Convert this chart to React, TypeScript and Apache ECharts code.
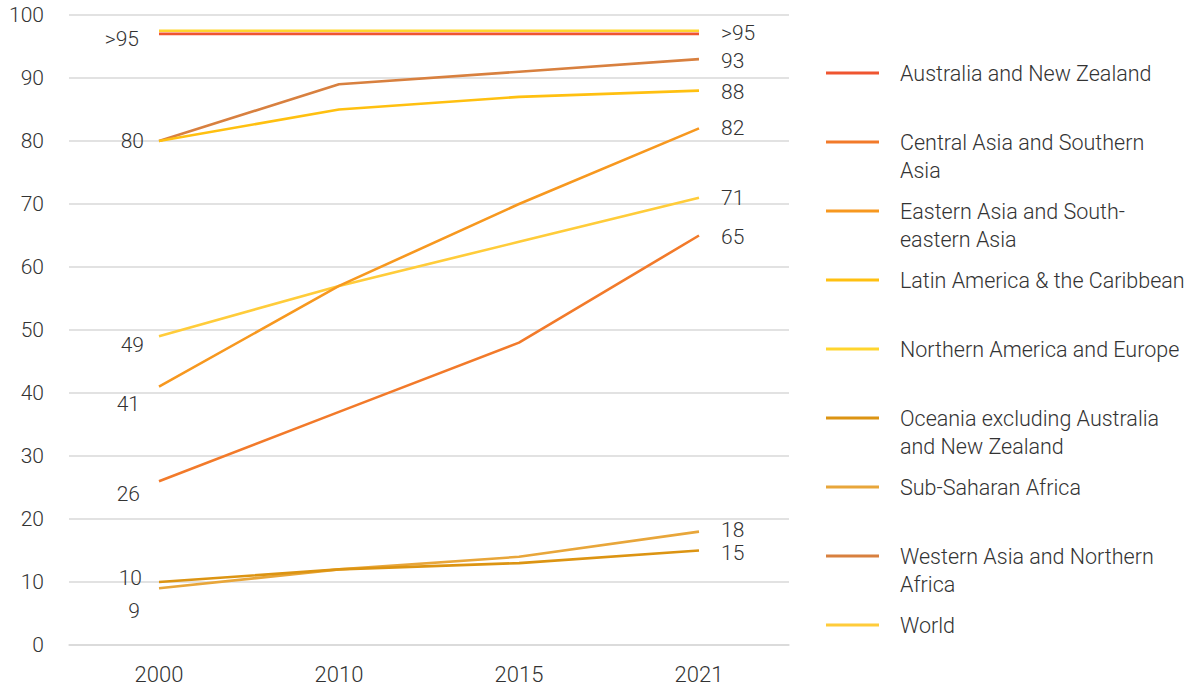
import React, { useEffect, useRef } from "react";
import * as echarts from "echarts";

const years = ["2000", "2010", "2015", "2021"];
const yTicks = [0, 10, 20, 30, 40, 50, 60, 70, 80, 90, 100];

const seriesNames = [
  "Australia and New Zealand",
  "Central Asia and Southern Asia",
  "Eastern Asia and South-eastern Asia",
  "Latin America & the Caribbean",
  "Northern America and Europe",
  "Oceania excluding Australia and New Zealand",
  "Sub-Saharan Africa",
  "Western Asia and Northern Africa",
  "World",
];

const legendLabels = [
  "Australia and New Zealand",
  "Central Asia and Southern\nAsia",
  "Eastern Asia and South-\neastern Asia",
  "Latin America & the Caribbean",
  "Northern America and Europe",
  "Oceania excluding Australia\nand New Zealand",
  "Sub-Saharan Africa",
  "Western Asia and Northern\nAfrica",
  "World",
];

const australiaNZ = [97, 97, 97, 97];
const centralSouthernAsia = [26, 37, 48, 65];
const easternSEAsia = [41, 57, 70, 82];
const latinAmerica = [80, 85, 87, 88];
const northAmericaEurope = [97.5, 97.5, 97.5, 97.5];
const oceaniaExcl = [10, 12, 13, 15];
const subSaharan = [9, 12, 14, 18];
const westernAsiaNAfrica = [80, 89, 91, 93];
const world = [49, 57, 64, 71];

const seriesValues = [
  australiaNZ,
  centralSouthernAsia,
  easternSEAsia,
  latinAmerica,
  northAmericaEurope,
  oceaniaExcl,
  subSaharan,
  westernAsiaNAfrica,
  world,
];

const colors = [
  "#EF5530",
  "#F27A2A",
  "#F7981F",
  "#FFC010",
  "#FFD52E",
  "#DC9412",
  "#E8A63A",
  "#D8803F",
  "#FFCC3A",
];

// label text per series at first / last point (null = no label)
const startLabels: (string | null)[] = [">95", "26", "41", null, null, "10", "9", "80", "49"];
const endLabels: (string | null)[] = [">95", "65", "82", "88", null, "15", "18", "93", "71"];

// label placement tweaks (styling, not data)
const startOffsets: number[][] = [
  [-5, 5], [-4, 13], [-4, 17], [0, 0], [0, 0], [-2, -4], [-4, 23], [0, 0], [0, 9],
];
const endOffsets: number[][] = [
  [0, -1], [0, 1], [0, 0], [0, 1], [0, 0], [0, 2], [0, -2], [0, 2], [0, 0],
];

const FONT = "Roboto, 'Open Sans', sans-serif";
const TEXT = "#333333";
const WEIGHT = 300;

export default function App() {
  const ref = useRef<HTMLDivElement>(null);

  useEffect(() => {
    if (!ref.current) return;
    const chart = echarts.init(ref.current, undefined, { renderer: "svg" });

    const series = seriesNames.map((name, si) => ({
      name,
      type: "line",
      symbol: "circle",
      symbolSize: 0,
      showSymbol: true,
      z: 10 - si,
      lineStyle: { color: colors[si], width: 2.6 },
      itemStyle: { color: colors[si] },
      label: { show: false },
      data: seriesValues[si].map((v, i) => {
        const last = i === seriesValues[si].length - 1;
        const first = i === 0;
        const txt = first ? startLabels[si] : last ? endLabels[si] : null;
        if (!txt) return v;
        return {
          value: v,
          label: {
            show: true,
            position: first ? "left" : "right",
            distance: first ? 15 : 22,
            offset: first ? startOffsets[si] : endOffsets[si],
            formatter: txt,
            color: TEXT,
            fontSize: 21,
            lineHeight: 20,
            fontWeight: WEIGHT,
            fontFamily: FONT,
          },
        };
      }),
    }));

    const graphics: any[] = [];
    const legendTop = 73;
    const legendStep = 69;
    legendLabels.forEach((lbl, i) => {
      const y = legendTop + legendStep * i;
      graphics.push({
        type: "line",
        shape: { x1: 826, y1: y, x2: 879, y2: y },
        style: { stroke: colors[i], lineWidth: 3 },
      });
      graphics.push({
        type: "text",
        x: 900,
        y: y - 14,
        style: {
          text: lbl,
          fill: TEXT,
          fontSize: 21.5,
          fontWeight: WEIGHT,
          fontFamily: FONT,
          lineHeight: 28,
          verticalAlign: "top",
          align: "left",
        },
      });
    });

    chart.setOption({
      animation: false,
      grid: { left: 69, right: 410, top: 15, bottom: 43, containLabel: false },
      xAxis: {
        type: "category",
        data: years,
        boundaryGap: true,
        axisLine: { show: true, lineStyle: { color: "#d9d9d9", width: 1.5 } },
        axisTick: { show: false },
        axisLabel: { color: TEXT, fontSize: 22, fontWeight: WEIGHT, fontFamily: FONT, margin: 18 },
      },
      yAxis: {
        type: "value",
        min: yTicks[0],
        max: yTicks[yTicks.length - 1],
        interval: yTicks[1] - yTicks[0],
        axisLine: { show: false },
        axisTick: { show: false },
        splitLine: { lineStyle: { color: "#d9d9d9", width: 1.5 } },
        axisLabel: { color: TEXT, fontSize: 21, fontWeight: WEIGHT, fontFamily: FONT, margin: 25 },
      },
      series,
      graphic: graphics,
    });

    return () => chart.dispose();
  }, []);

  return (
    <div
      ref={ref}
      style={{ position: "fixed", left: 0, top: 0, width: 1199, height: 688, background: "#fff" }}
    />
  );
}
